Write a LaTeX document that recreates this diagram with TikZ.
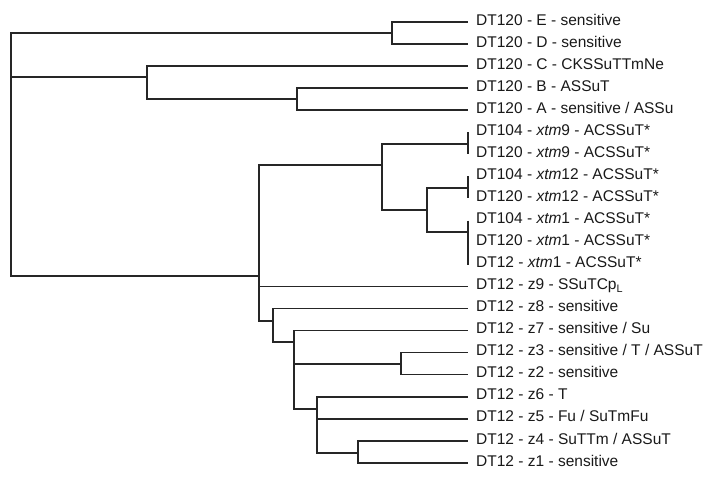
\documentclass[tikz,border=0pt]{standalone}
\usepackage{fontspec}
\setmainfont{Liberation Sans}
\begin{document}
\begin{tikzpicture}[x=1pt,y=-1pt,
  br/.style={draw=black!85, line width=1.3pt},
  lab/.style={anchor=base west, inner sep=0pt, font=\fontsize{15.5}{18}\selectfont, text=black!90}]
\path[use as bounding box] (0,0) rectangle (714,485);
% leaf ends
\coordinate (E) at (468,22);
\coordinate (D) at (468,44);
\coordinate (C) at (468,66);
\coordinate (B) at (468,88);
\coordinate (A) at (468,110);
\coordinate (x9a) at (468,132.3);
\coordinate (x9b) at (468,154.3);
\coordinate (x12a) at (468,176.4);
\coordinate (x12b) at (468,198.4);
\coordinate (x1a) at (468,220.5);
\coordinate (x1b) at (468,242.5);
\coordinate (x1c) at (468,264.6);
\coordinate (z9) at (468,286.6);
\coordinate (z8) at (468,308.7);
\coordinate (z7) at (468,330.7);
\coordinate (z3) at (468,352.8);
\coordinate (z2) at (468,374.8);
\coordinate (z6) at (468,396.9);
\coordinate (z5) at (468,418.9);
\coordinate (z4) at (468,441);
\coordinate (z1) at (468,463);
% internal nodes
\coordinate (root) at (11,150);
\coordinate (nED) at (392,33);
\coordinate (nCBA) at (147,77);
\coordinate (nBA) at (297,99);
\coordinate (nLow) at (259,276);
\coordinate (nX) at (382,165);
\coordinate (nX9) at (468,144);
\coordinate (nX121) at (427,210);
\coordinate (nX12) at (468,188);
\coordinate (nX1) at (468,232);
\coordinate (nZ) at (273,321);
\coordinate (nZ2) at (294,342);
\coordinate (nZ32) at (401,364);
\coordinate (nZ3) at (317,409);
\coordinate (nZ41) at (358,453);
% branches
\draw[br] (root) |- (nED);
\draw[br] (root) |- (nCBA);
\draw[br] (root) |- (nLow);
\draw[br] (nED) |- (E);
\draw[br] (nED) |- (D);
\draw[br] (nCBA) |- (C);
\draw[br] (nCBA) |- (nBA);
\draw[br] (nBA) |- (B);
\draw[br] (nBA) |- (A);
\draw[br] (nLow) |- (nX);
\draw[br] (nLow) |- (z9);
\draw[br] (nLow) |- (nZ);
\draw[br] (nX) |- (nX9);
\draw[br] (nX) |- (nX121);
\draw[br] (x9a) -- (x9b);
\draw[br] (nX121) |- (nX12);
\draw[br] (nX121) |- (nX1);
\draw[br] (x12a) -- (x12b);
\draw[br] (x1a) -- (x1c);
\draw[br] (nZ) |- (z8);
\draw[br] (nZ) |- (nZ2);
\draw[br] (nZ2) |- (z7);
\draw[br] (nZ2) |- (nZ32);
\draw[br] (nZ2) |- (nZ3);
\draw[br] (nZ32) |- (z3);
\draw[br] (nZ32) |- (z2);
\draw[br] (nZ3) |- (z6);
\draw[br] (nZ3) |- (z5);
\draw[br] (nZ3) |- (nZ41);
\draw[br] (nZ41) |- (z4);
\draw[br] (nZ41) |- (z1);
% labels
\node[lab] (tE) at (476,25) {DT120 - E - sensitive};
\node[lab] (tD) at (476,47) {DT120 - D - sensitive};
\node[lab] (tC) at (476,69) {DT120 - C - CKSSuTTmNe};
\node[lab] (tB) at (476,91) {DT120 - B - ASSuT};
\node[lab] (tA) at (476,113) {DT120 - A - sensitive / ASSu};
\node[lab] (tx9a) at (476,135.3) {DT104 - \textit{xtm}9 - ACSSuT*};
\node[lab] (tx9b) at (476,157.3) {DT120 - \textit{xtm}9 - ACSSuT*};
\node[lab] (tx12a) at (476,179.4) {DT104 - \textit{xtm}12 - ACSSuT*};
\node[lab] (tx12b) at (476,201.4) {DT120 - \textit{xtm}12 - ACSSuT*};
\node[lab] (tx1a) at (476,223.5) {DT104 - \textit{xtm}1 - ACSSuT*};
\node[lab] (tx1b) at (476,245.5) {DT120 - \textit{xtm}1 - ACSSuT*};
\node[lab] (tx1c) at (476,267.6) {DT12 - \textit{xtm}1 - ACSSuT*};
\node[lab] (tz9) at (476,289.6) {DT12 - z9 - SSuTCp\textsubscript{L}};
\node[lab] (tz8) at (476,311.7) {DT12 - z8 - sensitive};
\node[lab] (tz7) at (476,333.7) {DT12 - z7 - sensitive / Su};
\node[lab] (tz3) at (476,355.8) {DT12 - z3 - sensitive / T / ASSuT};
\node[lab] (tz2) at (476,377.8) {DT12 - z2 - sensitive};
\node[lab] (tz6) at (476,399.9) {DT12 - z6 - T};
\node[lab] (tz5) at (476,421.9) {DT12 - z5 - Fu / SuTmFu};
\node[lab] (tz4) at (476,444) {DT12 - z4 - SuTTm / ASSuT};
\node[lab] (tz1) at (476,466) {DT12 - z1 - sensitive};
\end{tikzpicture}
\end{document}
